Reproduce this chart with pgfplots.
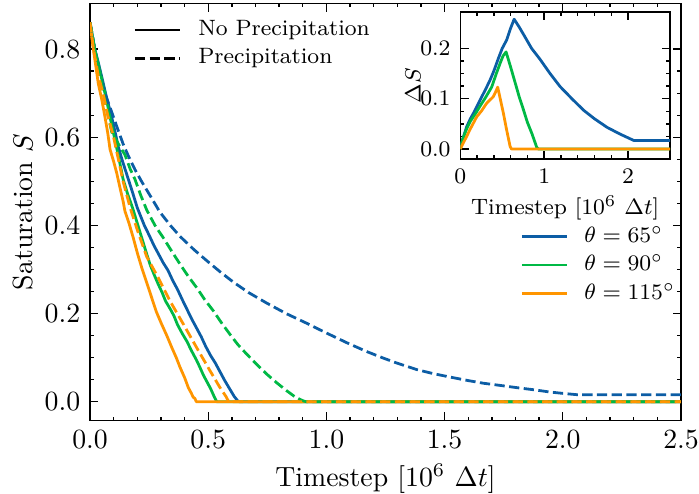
\documentclass[border=0pt]{standalone}
\usepackage{pgfplots}
\pgfplotsset{compat=1.18}

\definecolor{sciblue}{HTML}{0C5DA5}
\definecolor{scigreen}{HTML}{00B945}
\definecolor{sciorange}{HTML}{FF9500}

\pgfplotsset{
  sci/.style={
    scale only axis,
    axis line style={line width=0.5pt},
    tick align=inside,
    xtick pos=both, ytick pos=both,
    tick style={line width=0.5pt, black},
    major tick length=3pt,
    minor tick length=1.5pt,
    every axis plot/.append style={line width=1pt, line join=round},
  },
  dashedline/.style={dash pattern=on 3.7pt off 1.6pt},
  legline/.style={
    legend image code/.code={\draw[##1, line width=1pt] (0pt,0pt) -- (16.2pt,0pt);},
  },
}

\begin{document}
\begin{tikzpicture}
\begin{axis}[sci, legline,
  name=main, at={(0,0)}, anchor=south west,
  width=212.76pt, height=150.26pt,
  xmin=0, xmax=2.5, ymin=-0.043, ymax=0.904,
  xtick={0,0.5,1,1.5,2,2.5}, ytick={0,0.2,0.4,0.6,0.8},
  minor x tick num=4, minor y tick num=3,
  xticklabel style={/pgf/number format/.cd, fixed, fixed zerofill, precision=1},
  yticklabel style={/pgf/number format/.cd, fixed, fixed zerofill, precision=1},
  xlabel={Timestep [$10^6$ $\Delta t$]},
  ylabel={Saturation $S$},
  xlabel style={at={(axis description cs:0.5,-0.106)}, anchor=center, yshift=-5pt},
  ylabel style={at={(axis description cs:-0.113,0.5)}, anchor=center},
  legend cell align=left,
  legend style={draw=none, fill=none, font=\footnotesize,
    at={(rel axis cs:0.7276,0.469)}, anchor=north west,
    inner sep=0pt, row sep=2.25pt, column sep=5.8pt,
    nodes={inner sep=0pt, text height=6pt, text depth=2pt}},
]
% no precipitation
\addplot[sciblue] coordinates {
(0,0.861) (0.01,0.83) (0.02,0.80) (0.035,0.77) (0.055,0.725) (0.07,0.69)
(0.09,0.65) (0.105,0.615) (0.12,0.578) (0.135,0.55) (0.15,0.525) (0.165,0.50)
(0.18,0.475) (0.2,0.44) (0.215,0.42) (0.23,0.40) (0.25,0.378) (0.27,0.355)
(0.29,0.335) (0.31,0.315) (0.33,0.298) (0.35,0.275) (0.37,0.255) (0.39,0.232)
(0.41,0.21) (0.43,0.188) (0.45,0.168) (0.47,0.148) (0.49,0.125) (0.51,0.105)
(0.53,0.088) (0.55,0.068) (0.57,0.048) (0.59,0.03) (0.61,0.012) (0.625,0.002)
(0.632,0) (2.5,0)};
\addlegendentry{$\theta=65^\circ$}
\addplot[scigreen] coordinates {
(0,0.861) (0.01,0.83) (0.02,0.80) (0.04,0.755) (0.055,0.72) (0.07,0.685)
(0.085,0.645) (0.1,0.608) (0.12,0.558) (0.14,0.505) (0.16,0.47) (0.18,0.44)
(0.2,0.405) (0.22,0.37) (0.24,0.335) (0.255,0.31) (0.27,0.29) (0.29,0.265)
(0.305,0.248) (0.32,0.228) (0.34,0.21) (0.355,0.195) (0.37,0.175) (0.39,0.155)
(0.41,0.137) (0.43,0.115) (0.45,0.095) (0.465,0.078) (0.48,0.06) (0.5,0.04)
(0.51,0.03) (0.525,0.012) (0.536,0) (2.5,0)};
\addlegendentry{$\theta=90^\circ$}
\addplot[sciorange] coordinates {
(0,0.861) (0.007,0.83) (0.014,0.80) (0.025,0.76) (0.035,0.722) (0.05,0.685)
(0.063,0.647) (0.075,0.61) (0.085,0.572) (0.1,0.545) (0.113,0.519) (0.125,0.49)
(0.14,0.455) (0.148,0.432) (0.165,0.405) (0.183,0.372) (0.2,0.338) (0.219,0.304)
(0.24,0.27) (0.261,0.236) (0.28,0.205) (0.303,0.176) (0.325,0.15) (0.346,0.123)
(0.365,0.1) (0.381,0.078) (0.4,0.055) (0.416,0.032) (0.428,0.02) (0.437,0.01)
(0.443,0.008) (0.45,0) (2.5,0)};
\addlegendentry{$\theta=115^\circ$}
% precipitation
\addplot[sciblue, dashedline, forget plot] coordinates {
(0,0.861) (0.02,0.80) (0.04,0.75) (0.063,0.70) (0.09,0.66) (0.113,0.625)
(0.14,0.585) (0.162,0.558) (0.19,0.527) (0.218,0.500) (0.254,0.468) (0.296,0.43)
(0.34,0.40) (0.381,0.375) (0.44,0.345) (0.494,0.320) (0.55,0.295) (0.605,0.272)
(0.67,0.248) (0.747,0.224) (0.83,0.20) (0.917,0.178) (1.0,0.156) (1.086,0.134)
(1.17,0.114) (1.241,0.099) (1.297,0.088) (1.382,0.073) (1.45,0.064) (1.523,0.056)
(1.6,0.048) (1.664,0.042) (1.75,0.036) (1.805,0.032) (1.88,0.027) (1.946,0.022)
(2.0,0.019) (2.06,0.016) (2.5,0.016)};
\addplot[scigreen, dashedline, forget plot] coordinates {
(0,0.861) (0.02,0.80) (0.045,0.735) (0.07,0.665) (0.092,0.612) (0.12,0.585)
(0.148,0.56) (0.17,0.528) (0.19,0.505) (0.215,0.468) (0.24,0.435) (0.275,0.40)
(0.31,0.372) (0.345,0.342) (0.381,0.312) (0.415,0.285) (0.451,0.259) (0.485,0.232)
(0.522,0.206) (0.555,0.18) (0.592,0.153) (0.625,0.13) (0.663,0.108) (0.705,0.085)
(0.747,0.063) (0.79,0.043) (0.832,0.025) (0.87,0.01) (0.902,0.002) (0.915,0) (2.5,0)};
\addplot[sciorange, dashedline, forget plot] coordinates {
(0,0.861) (0.015,0.80) (0.035,0.74) (0.055,0.70) (0.075,0.65) (0.1,0.60)
(0.12,0.55) (0.14,0.50) (0.17,0.44) (0.2,0.39) (0.24,0.329) (0.289,0.281)
(0.338,0.229) (0.395,0.176) (0.451,0.123) (0.508,0.07) (0.55,0.032) (0.575,0.012)
(0.585,0.002) (0.59,0) (2.5,0)};
\end{axis}

% line-style legend
\begin{axis}[legline, scale only axis, hide axis,
  at={(0,0)}, anchor=south west,
  width=212.76pt, height=150.26pt,
  xmin=0, xmax=1, ymin=0, ymax=1,
  legend cell align=left,
  legend style={draw=none, fill=none, font=\footnotesize,
    at={(rel axis cs:0.0728,0.964)}, anchor=north west,
    inner sep=0pt, row sep=2.15pt, column sep=6.1pt,
    nodes={inner sep=0pt, text height=6pt, text depth=2pt}},
]
\addlegendimage{black}
\addlegendentry{No Precipitation}
\addlegendimage{black, dashedline}
\addlegendentry{Precipitation}
\end{axis}

% inset
\begin{axis}[sci,
  at={(133.3pt,94.2pt)}, anchor=south west,
  width=75.5pt, height=53.0pt,
  axis background/.style={fill=white},
  xmin=0, xmax=2.5, ymin=-0.02, ymax=0.2727,
  xtick={0,1,2}, ytick={0,0.1,0.2},
  minor x tick num=4, minor y tick num=3,
  ticklabel style={font=\footnotesize},
  label style={font=\footnotesize},
  yticklabel style={/pgf/number format/.cd, fixed, fixed zerofill, precision=1},
  xlabel={Timestep [$10^6$ $\Delta t$]},
  ylabel={$\Delta S$},
  xlabel style={at={(axis description cs:0.5,-0.251)}, anchor=center, yshift=-4.3pt},
  ylabel style={at={(axis description cs:-0.2256,0.5)}, anchor=center},
]
\addplot[sciblue] coordinates {
(0,0.0) (0.03,0.02) (0.076,0.044) (0.12,0.06) (0.17,0.075) (0.235,0.097)
(0.3,0.118) (0.355,0.137) (0.4,0.155) (0.454,0.18) (0.5,0.2) (0.554,0.217)
(0.6,0.24) (0.642,0.258) (0.7,0.243) (0.753,0.228) (0.85,0.2) (0.952,0.178)
(1.07,0.15) (1.19,0.124) (1.33,0.10) (1.47,0.077) (1.6,0.06) (1.75,0.043)
(1.9,0.03) (2.067,0.017) (2.5,0.017)};
\addplot[scigreen] coordinates {
(0,0) (0.03,0.02) (0.076,0.04) (0.12,0.055) (0.18,0.07) (0.235,0.085)
(0.3,0.102) (0.374,0.123) (0.43,0.15) (0.474,0.17) (0.51,0.185) (0.546,0.193)
(0.6,0.163) (0.633,0.144) (0.7,0.105) (0.753,0.078) (0.8,0.053) (0.853,0.031)
(0.912,0.003) (0.93,0) (2.5,0)};
\addplot[sciorange] coordinates {
(0,0) (0.03,0.01) (0.076,0.025) (0.12,0.04) (0.196,0.064) (0.25,0.075)
(0.315,0.091) (0.394,0.104) (0.42,0.113) (0.446,0.123) (0.48,0.097) (0.514,0.071)
(0.55,0.04) (0.594,0.005) (0.61,0) (2.5,0)};
\end{axis}

\pgfresetboundingbox
\path (-32.4pt,-26.03pt) rectangle (219.24pt,151.45pt);
\end{tikzpicture}
\end{document}
